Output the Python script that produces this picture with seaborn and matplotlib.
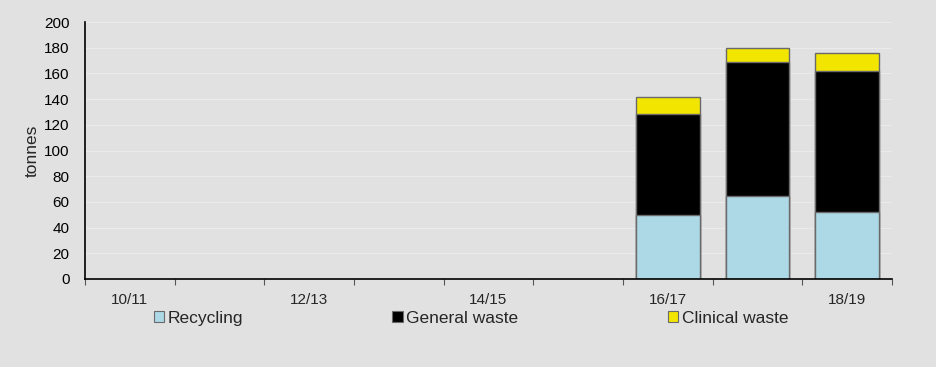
import numpy as np
import pandas as pd
import matplotlib
matplotlib.use("Agg")
import matplotlib.pyplot as plt
from matplotlib.patches import Patch
import seaborn as sns

years = ["10/11", "11/12", "12/13", "13/14", "14/15", "15/16", "16/17", "17/18", "18/19"]
recycling = [np.nan, np.nan, np.nan, np.nan, np.nan, np.nan, 50.0, 64.5, 52.0]
general_waste = [np.nan, np.nan, np.nan, np.nan, np.nan, np.nan, 78.5, 104.0, 110.0]
clinical_waste = [np.nan, np.nan, np.nan, np.nan, np.nan, np.nan, 13.0, 11.5, 14.0]
shown_labels = ["10/11", "", "12/13", "", "14/15", "", "16/17", "", "18/19"]

df = pd.DataFrame({
    "year": years,
    "Recycling": recycling,
    "General waste": general_waste,
    "Clinical waste": clinical_waste,
})
df["lvl_general"] = df["Recycling"] + df["General waste"]
df["lvl_clinical"] = df["lvl_general"] + df["Clinical waste"]

bg = "#e1e1e1"
colors = {"Recycling": "#add8e6", "General waste": "#000000", "Clinical waste": "#f2e500"}
edge = "#6a6a6a"

sns.set_theme(style="white")
plt.rcParams["font.family"] = ["Liberation Sans", "DejaVu Sans"]

fig = plt.figure(figsize=(9.36, 3.67), dpi=100, facecolor=bg)
ax = fig.add_axes([0.0908, 0.2398, 0.8622, 0.7002])
ax.set_facecolor(bg)

# stacked bars drawn as overlapping cumulative totals, tallest first
for col, name in [("lvl_clinical", "Clinical waste"), ("lvl_general", "General waste"), ("Recycling", "Recycling")]:
    sns.barplot(data=df, x="year", y=col, order=years, color=colors[name],
                width=0.71, edgecolor=edge, linewidth=1.0, saturation=1,
                errorbar=None, ax=ax)

ax.set_ylim(0, 200)
ax.set_xlim(-0.5, len(years) - 0.5)
ax.set_yticks(np.arange(0, 201, 20))
ax.tick_params(axis="y", length=0, labelsize=11, colors="#000000", pad=11)
for y in np.arange(20, 201, 20):
    ax.axhline(y, color="#ebebeb", linewidth=0.8, zorder=0)

ax.set_xticks(np.arange(len(years)))
ax.set_xticklabels(shown_labels, fontsize=11)
ax.tick_params(axis="x", which="major", length=0, pad=10)
# category boundary ticks
ax.set_xticks(np.arange(-0.5, len(years)), minor=True)
ax.tick_params(axis="x", which="minor", bottom=True, length=4, width=0.8,
               color="#555555", direction="out")

ax.set_xlabel("")
ax.set_ylabel("tonnes", fontsize=12.5, labelpad=3)

for s in ["top", "right"]:
    ax.spines[s].set_visible(False)
for s in ["left", "bottom"]:
    ax.spines[s].set_color("#000000")
    ax.spines[s].set_linewidth(1.2)

handles = [Patch(facecolor=colors[n], edgecolor=edge, linewidth=0.8, label=n)
           for n in ["Recycling", "General waste", "Clinical waste"]]
fig.legend(handles=handles, loc="center", bbox_to_anchor=(0.503, 0.133), ncol=3,
           frameon=False, fontsize=12.5, handlelength=0.6, handleheight=0.6,
           handletextpad=0.2, columnspacing=8.6)

fig.savefig("out.png", dpi=100, facecolor=bg)
